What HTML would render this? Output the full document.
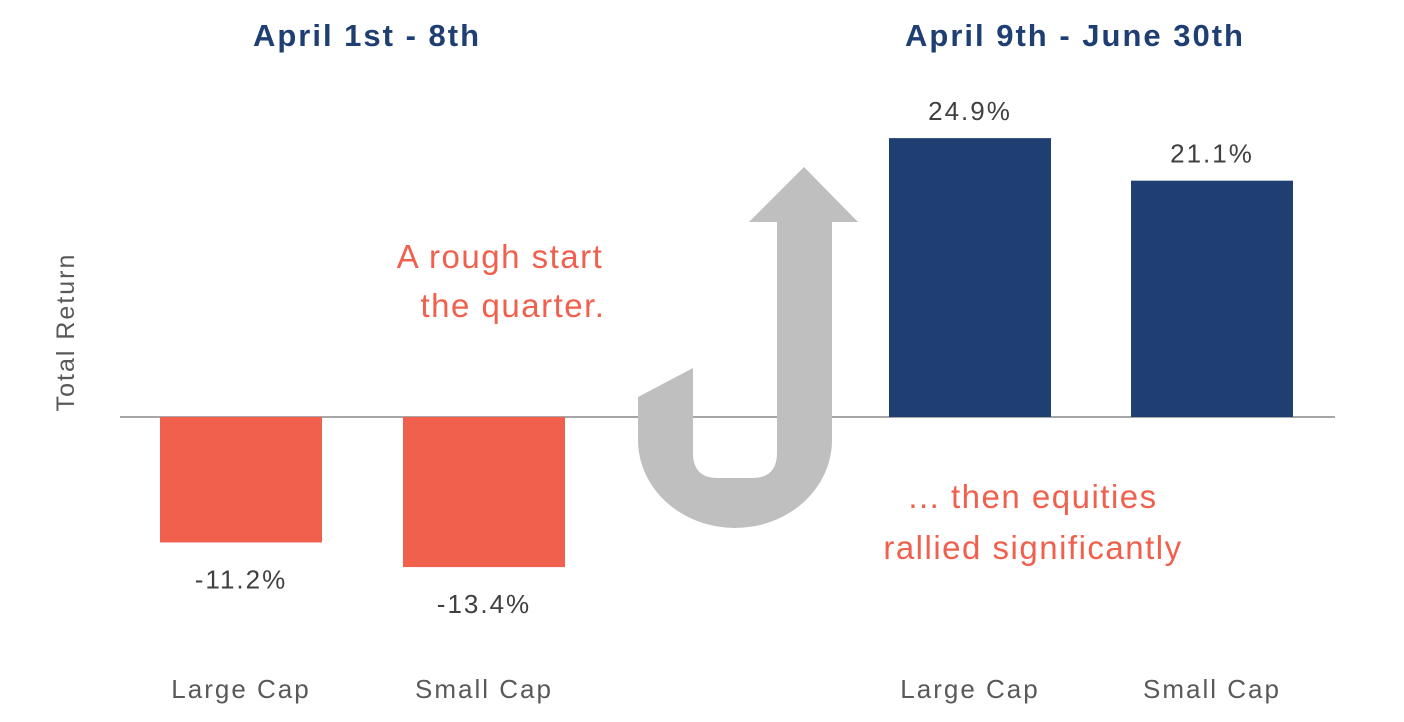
<!DOCTYPE html>
<html><head><meta charset="utf-8"><style>
body{margin:0;background:#fff;}
svg{display:block;font-family:"Liberation Sans",sans-serif;}
</style></head><body>
<svg width="1404" height="722" viewBox="0 0 1404 722">
<text x="367" y="46" text-anchor="middle" font-size="31" font-weight="bold" letter-spacing="2" fill="#1f3f73">April 1st - 8th</text>
<text x="1075" y="46" text-anchor="middle" font-size="31" font-weight="bold" letter-spacing="2" fill="#1f3f73">April 9th - June 30th</text>
<text transform="translate(74,332) rotate(-90)" text-anchor="middle" font-size="25" letter-spacing="2" fill="#595959">Total Return</text>
<line x1="120" y1="417" x2="1335" y2="417" stroke="#a6a6a6" stroke-width="2"/>
<g id="bars"></g>
<path d="M638,397 L693,368 L693,453 Q693,478 718,478 L752,478 Q777,478 777,453 L777,222 L749,222 L804,167 L858,222 L832,222 L832,440 A97,88 0 0 1 735,528 A97,88 0 0 1 638,440 Z" fill="#bfbfbf"/>
<g font-size="33" fill="#f0604c" letter-spacing="1.5">
<text x="500" y="268" text-anchor="middle">A rough start</text>
<text x="513" y="317" text-anchor="middle">the quarter.</text>
<text x="1033" y="508" text-anchor="middle">... then equities</text>
<text x="1033" y="559" text-anchor="middle">rallied significantly</text>
</g>
</svg>
<script>
const categories=["Large Cap","Small Cap","Large Cap","Small Cap"];
const values=[-11.2,-13.4,24.9,21.1];
const labels=["-11.2%","-13.4%","24.9%","21.1%"];
const centers=[241,484,970,1212];
const zeroY=417, pxPer=11.2, barW=162;
const y=v=>zeroY-v*pxPer;
const g=document.getElementById('bars');
const ns="http://www.w3.org/2000/svg";
values.forEach((v,i)=>{
  const r=document.createElementNS(ns,'rect');
  
  
  r.setAttribute('x',centers[i]-barW/2);
  r.setAttribute('y',Math.min(y(v),zeroY));
  r.setAttribute('width',barW);
  r.setAttribute('height',Math.abs(y(v)-zeroY));
  r.setAttribute('fill',v<0?'#f0604c':'#1f3f73');
  g.appendChild(r);
  const t=document.createElementNS(ns,'text');
  
  
  t.setAttribute('x',centers[i]);
  t.setAttribute('y',v<0?y(v)+46:y(v)-18);
  t.setAttribute('text-anchor','middle');
  t.setAttribute('font-size','26');
  t.setAttribute('letter-spacing','2');
  t.setAttribute('fill','#404040');
  t.textContent=labels[i];
  g.appendChild(t);
  const c=document.createElementNS(ns,'text');
  
  
  c.setAttribute('x',centers[i]);
  c.setAttribute('y',698);
  c.setAttribute('text-anchor','middle');
  c.setAttribute('font-size','26');
  c.setAttribute('letter-spacing','2');
  c.setAttribute('fill','#595959');
  c.textContent=categories[i];
  g.appendChild(c);
});
</script>
</body></html>
